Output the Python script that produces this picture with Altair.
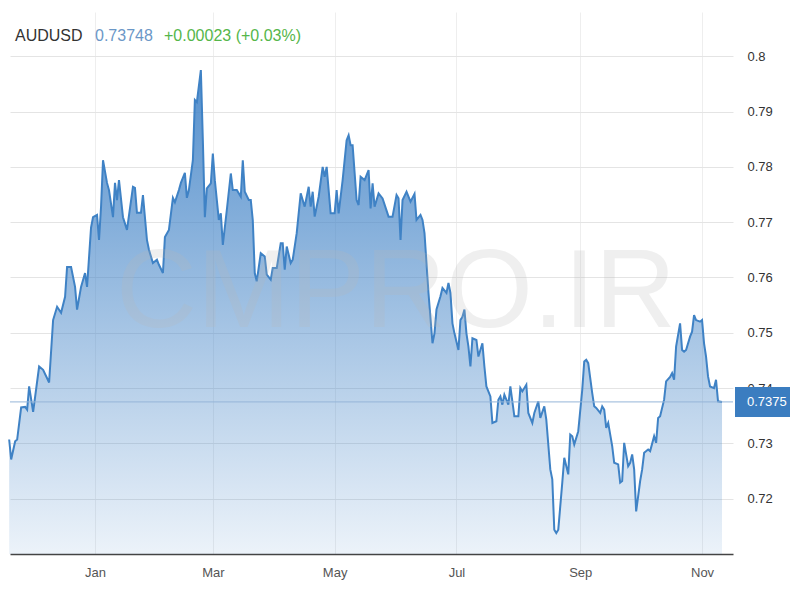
import altair as alt
import pandas as pd

# ---------------- data ----------------
symbol = "AUDUSD"
last_price_text = "0.73748"
change_text = "+0.00023 (+0.03%)"
last_value = 0.7375
last_label = "0.7375"
watermark = "CMPRO.IR"

dates = [
    "2020-11-19", "2020-11-20", "2020-11-22", "2020-11-23", "2020-11-25", "2020-11-27",
    "2020-11-28", "2020-11-29", "2020-12-01", "2020-12-04", "2020-12-06", "2020-12-09",
    "2020-12-11", "2020-12-13", "2020-12-15", "2020-12-17", "2020-12-18", "2020-12-20",
    "2020-12-22", "2020-12-23", "2020-12-25", "2020-12-27", "2020-12-28", "2020-12-30",
    "2020-12-31", "2021-01-02", "2021-01-03", "2021-01-04", "2021-01-05", "2021-01-07",
    "2021-01-08", "2021-01-10", "2021-01-11", "2021-01-12", "2021-01-13", "2021-01-15",
    "2021-01-17", "2021-01-20", "2021-01-21", "2021-01-22", "2021-01-24", "2021-01-25",
    "2021-01-27", "2021-01-28", "2021-01-30", "2021-02-01", "2021-02-02", "2021-02-04",
    "2021-02-05", "2021-02-07", "2021-02-09", "2021-02-10", "2021-02-12", "2021-02-13",
    "2021-02-15", "2021-02-16", "2021-02-17", "2021-02-19",
    "2021-02-20", "2021-02-21", "2021-02-23", "2021-02-24", "2021-02-25", "2021-02-26",
    "2021-02-28", "2021-03-01", "2021-03-02", "2021-03-04", "2021-03-05", "2021-03-06",
    "2021-03-08", "2021-03-10", "2021-03-11", "2021-03-13", "2021-03-15", "2021-03-16",
    "2021-03-17", "2021-03-19", "2021-03-20", "2021-03-21", "2021-03-22", "2021-03-23",
    "2021-03-25", "2021-03-27", "2021-03-28", "2021-03-30", "2021-03-31", "2021-04-02",
    "2021-04-04", "2021-04-05", "2021-04-06", "2021-04-07", "2021-04-09", "2021-04-10",
    "2021-04-12", "2021-04-14", "2021-04-16", "2021-04-18", "2021-04-19", "2021-04-20",
    "2021-04-21", "2021-04-23", "2021-04-25", "2021-04-26", "2021-04-27", "2021-04-29",
    "2021-05-01", "2021-05-02", "2021-05-03", "2021-05-05", "2021-05-07", "2021-05-08",
    "2021-05-09", "2021-05-10", "2021-05-12", "2021-05-13", "2021-05-14", "2021-05-16",
    "2021-05-18", "2021-05-19", "2021-05-20", "2021-05-21", "2021-05-23", "2021-05-25",
    "2021-05-28", "2021-05-30", "2021-06-01", "2021-06-02", "2021-06-03", "2021-06-04",
    "2021-06-06", "2021-06-08", "2021-06-10", "2021-06-11", "2021-06-13", "2021-06-14",
    "2021-06-15", "2021-06-17", "2021-06-19", "2021-06-20", "2021-06-21", "2021-06-23",
    "2021-06-24", "2021-06-26", "2021-06-27", "2021-06-28", "2021-06-29", "2021-06-30",
    "2021-07-02", "2021-07-03", "2021-07-04", "2021-07-05", "2021-07-06", "2021-07-07",
    "2021-07-08", "2021-07-09", "2021-07-11", "2021-07-12", "2021-07-14", "2021-07-15",
    "2021-07-16", "2021-07-18", "2021-07-19", "2021-07-21", "2021-07-22", "2021-07-23",
    "2021-07-24", "2021-07-25", "2021-07-27", "2021-07-28", "2021-07-30", "2021-08-01",
    "2021-08-02", "2021-08-03", "2021-08-05", "2021-08-06", "2021-08-08", "2021-08-09",
    "2021-08-11", "2021-08-12",
    "2021-08-14", "2021-08-15", "2021-08-17", "2021-08-18", "2021-08-19", "2021-08-20",
    "2021-08-21", "2021-08-23", "2021-08-24", "2021-08-26", "2021-08-27", "2021-08-28",
    "2021-08-29", "2021-08-31", "2021-09-02", "2021-09-03", "2021-09-04", "2021-09-05",
    "2021-09-07", "2021-09-08", "2021-09-09", "2021-09-11", "2021-09-12", "2021-09-13",
    "2021-09-14", "2021-09-15", "2021-09-17", "2021-09-18", "2021-09-20", "2021-09-21",
    "2021-09-22", "2021-09-23", "2021-09-25", "2021-09-26", "2021-09-27", "2021-09-28",
    "2021-09-29", "2021-10-01", "2021-10-02", "2021-10-03", "2021-10-05", "2021-10-06",
    "2021-10-08", "2021-10-09", "2021-10-10", "2021-10-11", "2021-10-13", "2021-10-14",
    "2021-10-16", "2021-10-17", "2021-10-18", "2021-10-19", "2021-10-21", "2021-10-22",
    "2021-10-23", "2021-10-24", "2021-10-26", "2021-10-27", "2021-10-28", "2021-10-29",
    "2021-10-31", "2021-11-01", "2021-11-02", "2021-11-03", "2021-11-04", "2021-11-05",
    "2021-11-07", "2021-11-08", "2021-11-09", "2021-11-11",
]

values = [
    0.7307, 0.7271, 0.7304, 0.7307, 0.7365, 0.7366,
    0.7361, 0.7403, 0.7357, 0.7439, 0.7433, 0.7410,
    0.7523, 0.7547, 0.7536, 0.7565, 0.7619, 0.7619,
    0.7583, 0.7542, 0.7583, 0.7608, 0.7583, 0.7690,
    0.7709, 0.7713, 0.7668, 0.7727, 0.7812, 0.7771,
    0.7758, 0.7709, 0.7771, 0.7740, 0.7776, 0.7709,
    0.7686, 0.7764, 0.7762, 0.7717, 0.7717, 0.7749,
    0.7668, 0.7650, 0.7626, 0.7632, 0.7623, 0.7608,
    0.7673, 0.7686, 0.7744, 0.7736, 0.7758, 0.7771,
    0.7789, 0.7744, 0.7758, 0.7812,
    0.7921, 0.7917, 0.7975, 0.7848, 0.7709, 0.7761,
    0.7770, 0.7824, 0.7776, 0.7704, 0.7716, 0.7659,
    0.7722, 0.7788, 0.7758, 0.7758, 0.7746, 0.7812,
    0.7755, 0.7740, 0.7740, 0.7704, 0.7608, 0.7593,
    0.7644, 0.7638, 0.7605, 0.7596, 0.7617, 0.7617,
    0.7662, 0.7662, 0.7614, 0.7656, 0.7626, 0.7632,
    0.7680, 0.7752, 0.7728, 0.7764, 0.7728, 0.7755,
    0.7710, 0.7746, 0.7800, 0.7782, 0.7800, 0.7716,
    0.7716, 0.7758, 0.7716, 0.7776, 0.7848, 0.7857,
    0.7839, 0.7839, 0.7740, 0.7731, 0.7782, 0.7776,
    0.7794, 0.7725, 0.7770, 0.7728, 0.7752, 0.7743,
    0.7710, 0.7710, 0.7749, 0.7743, 0.7668, 0.7740,
    0.7755, 0.7737, 0.7751, 0.7704, 0.7713, 0.7704,
    0.7680, 0.7572, 0.7481, 0.7499, 0.7542, 0.7566,
    0.7581, 0.7572, 0.7590, 0.7572, 0.7517, 0.7499,
    0.7469, 0.7523, 0.7529, 0.7542, 0.7499, 0.7475,
    0.7439, 0.7490, 0.7487, 0.7457, 0.7481, 0.7439,
    0.7403, 0.7385, 0.7337, 0.7340, 0.7379, 0.7385,
    0.7370, 0.7388, 0.7370, 0.7403, 0.7349, 0.7349,
    0.7400, 0.7394, 0.7406, 0.7355, 0.7337, 0.7355,
    0.7376, 0.7346,
    0.7367, 0.7343, 0.7253, 0.7235, 0.7144, 0.7138,
    0.7144, 0.7229, 0.7274, 0.7244, 0.7316, 0.7313,
    0.7298, 0.7322, 0.7397, 0.7448, 0.7451, 0.7445,
    0.7391, 0.7367, 0.7364, 0.7355, 0.7367, 0.7361,
    0.7328, 0.7337, 0.7295, 0.7265, 0.7262, 0.7229,
    0.7232, 0.7301, 0.7259, 0.7265, 0.7280, 0.7253,
    0.7177, 0.7232, 0.7253, 0.7283, 0.7289, 0.7286,
    0.7313, 0.7301, 0.7346, 0.7349, 0.7379, 0.7412,
    0.7420, 0.7427, 0.7415, 0.7475, 0.7517, 0.7469,
    0.7466, 0.7469, 0.7493, 0.7502, 0.7532, 0.7523,
    0.7520, 0.7523, 0.7481, 0.7457, 0.7421, 0.7403,
    0.7400, 0.7415, 0.7376, 0.7375,
]

y_ticks = [0.72, 0.73, 0.74, 0.75, 0.76, 0.77, 0.78, 0.79, 0.8]
y_domain = [0.71, 0.808]
x_start = alt.DateTime(year=2020, month=11, date=19, hours=10, utc=True)
x_end = alt.DateTime(year=2021, month=11, date=16, hours=12, utc=True)
x_ticks = [alt.DateTime(year=2021, month=m, date=1, utc=True) for m in [1, 3, 5, 7, 9, 11]]

# ---------------- styling ----------------
FONT = "Liberation Sans, Arial, sans-serif"
LINE_COLOR = "#3f82c5"

df = pd.DataFrame({"date": dates, "value": values})

x_enc = alt.X(
    "date:T",
    scale=alt.Scale(type="utc", domain=[x_start, x_end]),
    axis=alt.Axis(
        title=None,
        format="%b",
        values=x_ticks,
        ticks=False,
        labelPadding=12,
        labelFontSize=13,
        labelFont=FONT,
        labelColor="#555555",
        domainColor="#444444",
        domainWidth=1.5,
        grid=True,
        gridColor="#eeeeee",
    ),
)
y_scale = alt.Scale(domain=y_domain, nice=False, zero=False)
y_enc = alt.Y(
    "value:Q",
    scale=y_scale,
    axis=alt.Axis(
        title=None,
        orient="right",
        values=y_ticks,
        format=".2~f",
        ticks=False,
        domain=False,
        labelPadding=14,
        labelFontSize=13,
        labelFont=FONT,
        labelColor="#333333",
        grid=True,
        gridColor="#e4e4e4",
    ),
)

gradient = alt.Gradient(
    gradient="linear",
    stops=[
        alt.GradientStop(color="rgba(70,134,200,0.92)", offset=0),
        alt.GradientStop(color="rgba(70,134,200,0.10)", offset=1),
    ],
    x1=1, x2=1, y1=0, y2=1,
)

base = alt.Chart(df)
area = base.mark_area(color=gradient).encode(x=x_enc, y=y_enc, y2=alt.datum(y_domain[0]))
line = base.mark_line(color=LINE_COLOR, strokeWidth=2).encode(x="date:T", y="value:Q")

one = pd.DataFrame({"v": [last_value]})
cur_rule = alt.Chart(one).mark_rule(color="#95b5d8", strokeWidth=1).encode(y=alt.datum(last_value))
cur_box = alt.Chart(one).mark_rect(height=30, color="#3b7dc0").encode(
    y=alt.datum(last_value), x=alt.value(725), x2=alt.value(780)
)
cur_text = alt.Chart(one).mark_text(
    align="left", baseline="middle", fontSize=13, font=FONT, color="white"
).encode(y=alt.datum(last_value), x=alt.value(737), text=alt.value(last_label))

wm = alt.Chart(one).mark_text(
    align="center", baseline="middle", fontSize=112, font=FONT, color="#b8b8b8", opacity=0.22
).encode(x=alt.value(386), y=alt.value(281), text=alt.value(watermark))

hdr1 = alt.Chart(one).mark_text(
    align="left", baseline="alphabetic", fontSize=16, font=FONT, color="#333333"
).encode(x=alt.value(5), y=alt.value(29), text=alt.value(symbol))
hdr2 = alt.Chart(one).mark_text(
    align="left", baseline="alphabetic", fontSize=16, font=FONT, color="#6b97c7"
).encode(x=alt.value(85), y=alt.value(29), text=alt.value(last_price_text))
hdr3 = alt.Chart(one).mark_text(
    align="left", baseline="alphabetic", fontSize=16, font=FONT, color="#55b64a"
).encode(x=alt.value(154), y=alt.value(29), text=alt.value(change_text))

chart = (
    alt.layer(area, line, cur_rule, wm, cur_box, cur_text, hdr1, hdr2, hdr3)
    .properties(
        width=723,
        height=542,
        padding={"left": 2, "top": 4, "right": 59, "bottom": 34},
        autosize=alt.AutoSizeParams(type="none"),
        background="white",
    )
    .configure_view(strokeWidth=0)
)

chart.save("out.html", embed_options={"renderer": "svg", "actions": False})
